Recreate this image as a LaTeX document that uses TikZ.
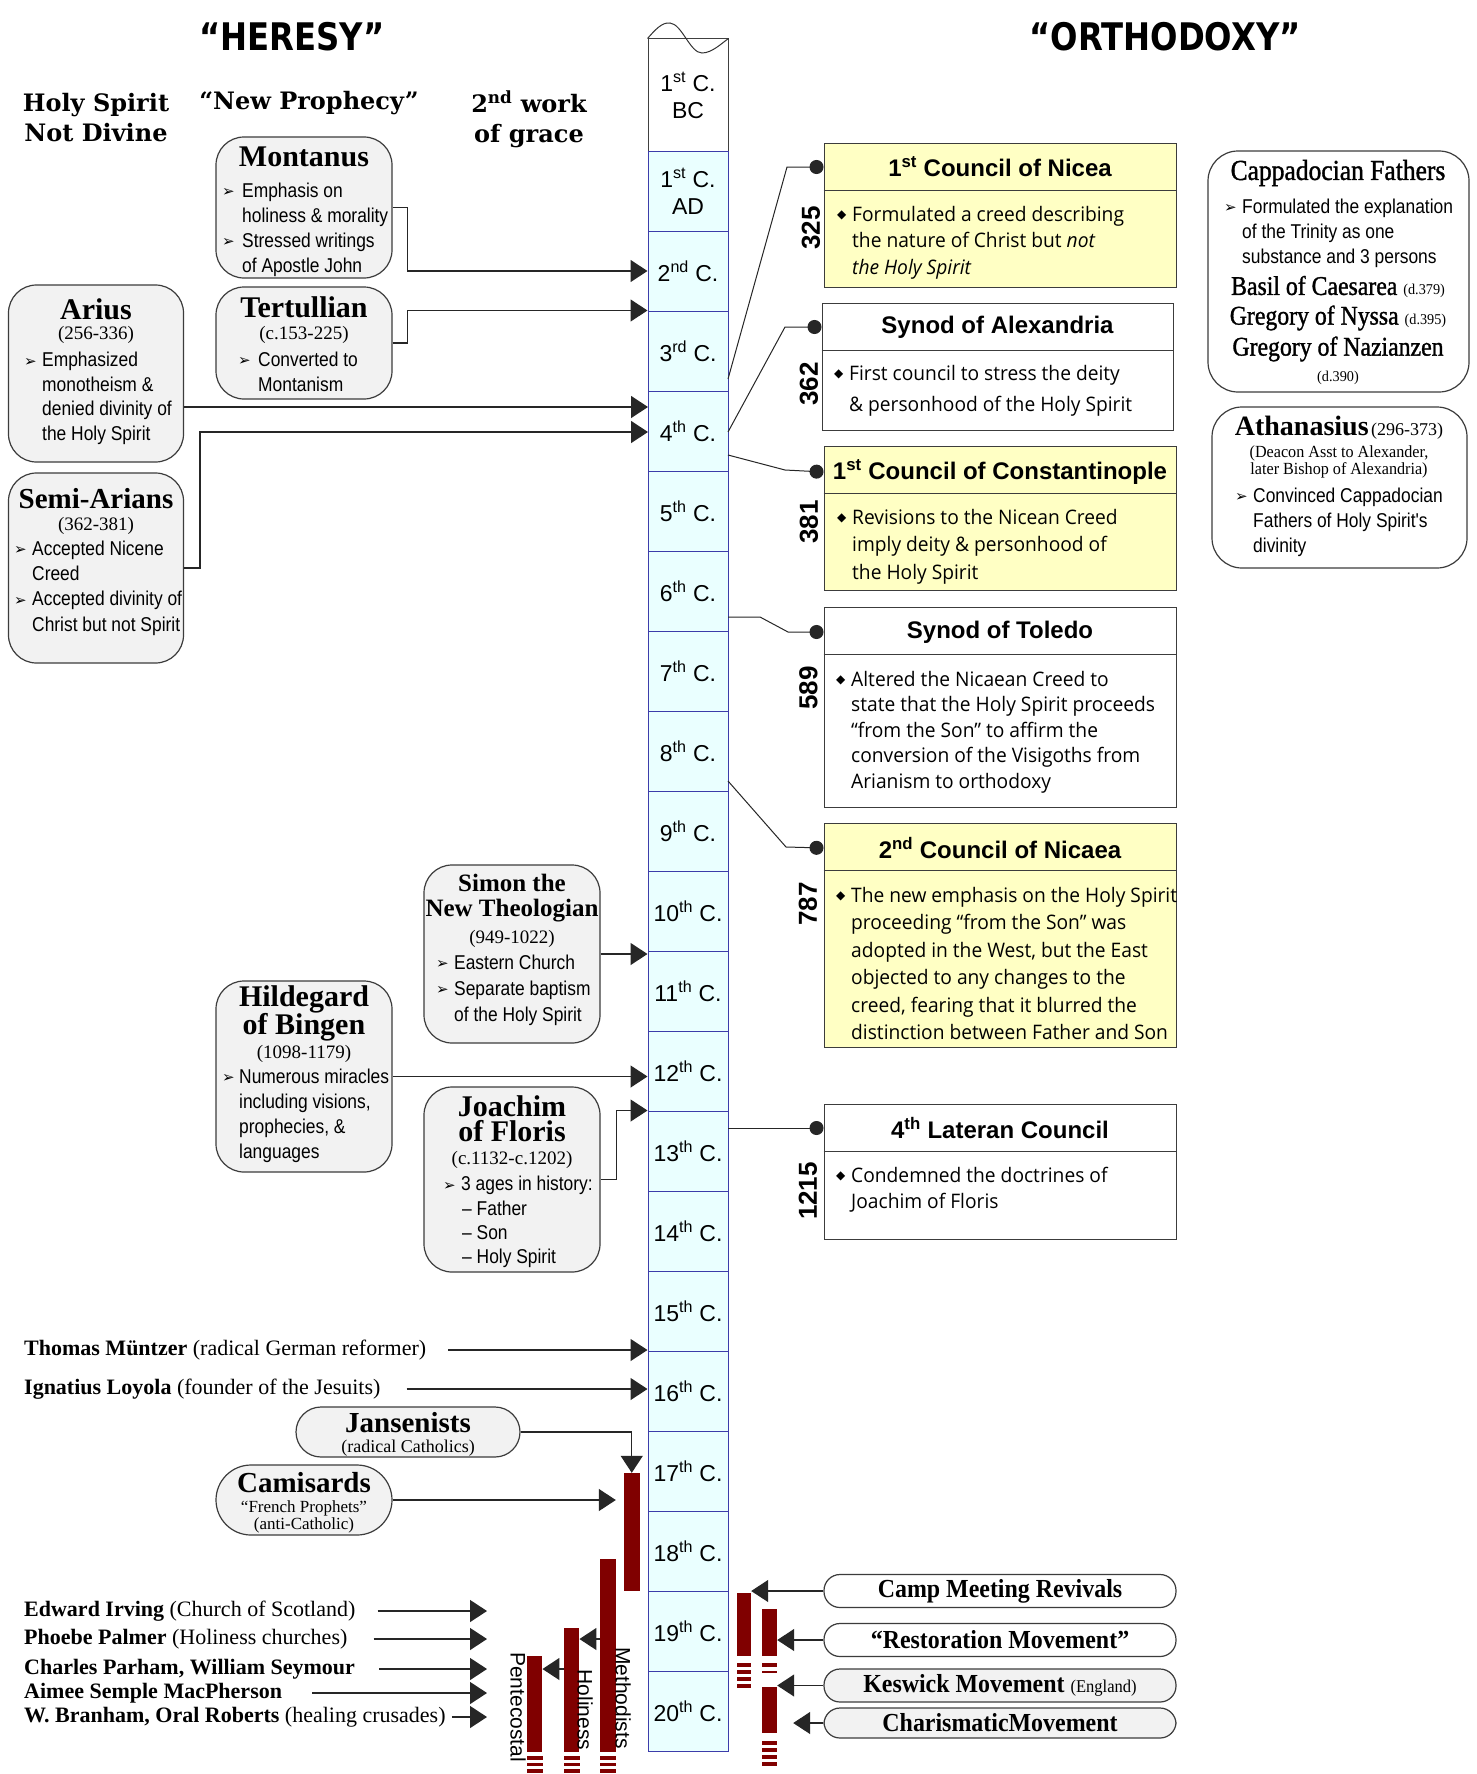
\documentclass[tikz,border=0pt]{standalone}
\usepackage{fontspec}
\setmainfont{Liberation Serif}
\newfontfamily\sansf{Liberation Sans}
\newfontfamily\narrowf{Liberation Sans}[FakeStretch=0.87]
\newfontfamily\dejaf{DejaVu Sans}
\newfontfamily\dserif{DejaVu Serif}
\newfontfamily\comicf{Open Sans}[FakeStretch=0.96]
\newfontfamily\decof{DejaVu Sans}[FakeStretch=0.85]
\newfontfamily\condserif{Liberation Serif}[FakeStretch=0.95]
\newfontfamily\namef{Liberation Serif}[FakeStretch=0.88, FakeBold=1.2]
\newfontfamily\ellf{Liberation Serif}[FakeStretch=0.92]
\usetikzlibrary{arrows.meta}
\newcommand\fsz[2]{\fontsize{#1}{#2}\selectfont}
\newcommand\bul[1]{\makebox[#1pt][l]{\dejaf\fsz{15}{15}\raisebox{0.5pt}{➢}}}
\newcommand\ind[1]{\hspace*{#1pt}}
\newcommand\dia{\makebox[15pt][l]{\dejaf\fsz{12}{12}\raisebox{3pt}{◆}}}
\definecolor{boxgray}{RGB}{242,242,242}
\definecolor{edgegray}{RGB}{60,60,60}
\definecolor{colfill}{RGB}{234,255,255}
\definecolor{colblue}{RGB}{60,60,170}
\definecolor{yel}{RGB}{255,255,196}
\definecolor{barred}{RGB}{128,0,0}
\tikzset{
  rbox/.style={draw=edgegray, line width=1.2pt, fill=boxgray, rounded corners=28pt, inner sep=0},
  wbox/.style={draw=edgegray, line width=1.2pt, fill=white, rounded corners=30pt, inner sep=0},
  cbox/.style={draw=edgegray, line width=1pt, inner sep=0, minimum width=352pt},
  divl/.style={draw=edgegray, line width=1pt},
  conn/.style={draw=black!85, line width=1.3pt, -{Triangle[length=17pt,width=22pt]}},
  dotc/.style={draw=black!85, line width=1pt, -{Circle[length=14pt]}},
  nm/.style={font=\bfseries\fsz{30}{25}, inner sep=0, align=center},
  dt/.style={font=\fsz{19}{22}, inner sep=0, text height=12pt, text depth=3pt},
  bl/.style={font=\narrowf\fsz{20}{25}, align=left, anchor=west, inner sep=0},
  cb/.style={font=\comicf\fsz{20}{26}, align=left, anchor=west, inner sep=0},
  ct/.style={font=\sansf\bfseries\fsz{24}{28}, inner sep=0},
  yr/.style={font=\sansf\bfseries\fsz{26}{26}, rotate=90, inner sep=0},
  hdr/.style={font=\dserif\bfseries\fsz{24}{30}, align=center, inner sep=0},
  lt/.style={font=\fsz{22}{22}, anchor=west, inner sep=0},
  crow/.style={draw=colblue, line width=1pt, fill=colfill, minimum width=80pt, minimum height=80pt, inner sep=0, font=\sansf\fsz{23}{27}, align=center},
  bar/.style={fill=barred, draw=none, inner sep=0, minimum width=15.5pt},
  ell/.style={draw=edgegray, line width=1.2pt, rounded corners=16pt, minimum width=352pt, minimum height=33pt, inner sep=0, font=\ellf\bfseries\fsz{26}{26}},
  vlab/.style={font=\sansf\fsz{21}{21}, rotate=-90, inner sep=0},
  nmc/.style={font=\namef\fsz{27}{27}, inner sep=0}
}
\begin{document}
\begin{tikzpicture}[x=1pt,y=-1pt]
\useasboundingbox (0,0) rectangle (1476,1774);
\fill[white] (0,0) rectangle (1476,1774);

% titles and headers
\node[font=\decof\bfseries\fsz{38}{40}, inner sep=0] (heresy) at (292,37) {“HERESY”};
\node[font=\decof\bfseries\fsz{38}{40}, inner sep=0] (ortho) at (1165,37) {“ORTHODOXY”};
\node[hdr] (hsnd) at (96,118) {Holy Spirit\\Not Divine};
\node[hdr] (newp) at (309,103) {“New Prophecy”};
\node[hdr] (swork) at (529,119) {2\textsuperscript{nd} work\\of grace};

% timeline column
\node[crow, fill=white, draw=black!75, minimum height=112pt] (r0) at (688,95) {1\textsuperscript{st} C.\\BC};
\draw[black!80, line width=1pt] (r0.north west) .. controls (655,30) and (662,22) .. (670,23)
   .. controls (682,24) and (690,53) .. (702,53) .. controls (712,53) and (722,43) .. (r0.north east);
\node[crow] (r1) at (688,191) {1\textsuperscript{st} C.\\AD};
\foreach \i/\s in {2/nd,3/rd,4/th,5/th,6/th,7/th,8/th,9/th,10/th,11/th,12/th,13/th,14/th,15/th,16/th,17/th,18/th,19/th,20/th}
  \node[crow] (r\i) at (688,{191+80*(\i-1)}) {\i\textsuperscript{\s} C.};

% ---------------- left side boxes ----------------
\node[rbox, minimum width=176pt, minimum height=141pt] (mont) at (304,207.5) {};
\node[nm] (montN) at (304,157) {Montanus};
\node[bl] (montB) at (222,229.5) {\bul{20}Emphasis on\\\ind{20}holiness \& morality\\\bul{20}Stressed writings\\\ind{20}of Apostle John};

\node[rbox, minimum width=176pt, minimum height=112pt] (tert) at (304,343) {};
\node[nm] (tertN) at (304,307) {Tertullian};
\node[dt] (tertD) at (304,335) {(c.153-225)};
\node[bl] (tertB) at (238,371.5) {\bul{20}Converted to\\\ind{20}Montanism};

\node[rbox, minimum width=175pt, minimum height=177pt] (arius) at (96,373.5) {};
\node[nm] (ariusN) at (96,309) {Arius};
\node[dt] (ariusD) at (96,335) {(256-336)};
\node[bl, font=\narrowf\fsz{20}{24.5}] (ariusB) at (24,398.5) {\bul{18}Emphasized\\\ind{18}monotheism \&\\\ind{18}denied divinity of\\\ind{18}the Holy Spirit};

\node[rbox, minimum width=175pt, minimum height=190pt] (semi) at (96,568) {};
\node[nm, font=\bfseries\fsz{29}{25}] (semiN) at (96,499) {Semi-Arians};
\node[dt] (semiD) at (96,526) {(362-381)};
\node[bl, font=\narrowf\fsz{20}{25.3}] (semiB) at (14,588) {\bul{18}Accepted Nicene\\\ind{18}Creed\\\bul{18}Accepted divinity of\\\ind{18}Christ but not Spirit};

\node[rbox, minimum width=176pt, minimum height=178pt] (simon) at (512,954) {};
\node[nm, font=\bfseries\fsz{25}{25}] (simonN) at (512,898.5) {Simon the\\New Theologian};
\node[dt] (simonD) at (512,939) {(949-1022)};
\node[bl, font=\narrowf\fsz{20}{26}] (simonB) at (436,990) {\bul{18}Eastern Church\\\bul{18}Separate baptism\\\ind{18}of the Holy Spirit};

\node[rbox, minimum width=176pt, minimum height=191pt] (hild) at (304,1076.5) {};
\node[nm] (hildN) at (304,1013.5) {Hildegard\\of Bingen};
\node[dt] (hildD) at (304,1054) {(1098-1179)};
\node[bl] (hildB) at (222,1115.5) {\bul{17}Numerous miracles\\\ind{17}including visions,\\\ind{17}prophecies, \&\\\ind{17}languages};

\node[rbox, minimum width=176pt, minimum height=185pt] (joa) at (512,1179.5) {};
\node[nm] (joaN) at (512,1118.5) {Joachim\\of Floris};
\node[dt] (joaD) at (512,1160) {(c.1132-c.1202)};
\node[bl, font=\narrowf\fsz{20}{24.3}] (joaB) at (443,1222) {\bul{18}3 ages in history:\\\ind{19}– Father\\\ind{19}– Son\\\ind{19}– Holy Spirit};

\node[lt] (thomas) at (24,1350) {\textbf{Thomas Müntzer} (radical German reformer)};
\node[lt] (ign) at (24,1389) {\textbf{Ignatius Loyola} (founder of the Jesuits)};

\node[rbox, rounded corners=25pt, minimum width=224pt, minimum height=50pt] (jan) at (408,1432) {};
\node[nm, font=\bfseries\fsz{29}{25}] (janN) at (408,1423) {Jansenists};
\node[dt, font=\fsz{18}{18}] (janD) at (408,1448) {(radical Catholics)};

\node[rbox, rounded corners=35pt, minimum width=176pt, minimum height=70pt] (cam) at (304,1500) {};
\node[nm, font=\bfseries\fsz{29}{25}] (camN) at (304,1483) {Camisards};
\node[dt, font=\fsz{17}{17}, text height=11pt, text depth=2pt] (camD1) at (304,1508) {“French Prophets”};
\node[dt, font=\fsz{17}{17}, text height=11pt, text depth=2pt] (camD2) at (304,1525) {(anti-Catholic)};

\node[lt] (irv) at (24,1611) {\textbf{Edward Irving} (Church of Scotland)};
\node[lt] (pal) at (24,1639) {\textbf{Phoebe Palmer} (Holiness churches)};
\node[lt] (par) at (24,1669) {\textbf{Charles Parham, William Seymour}};
\node[lt] (aim) at (24,1693) {\textbf{Aimee Semple MacPherson}};
\node[lt] (bra) at (24,1717) {\textbf{W. Branham, Oral Roberts} (healing crusades)};
\coordinate (irvE) at (487,1611);
\coordinate (palE) at (487,1639);
\coordinate (parE) at (487,1669);
\coordinate (aimE) at (487,1693);
\coordinate (braE) at (487,1717);

% bars (left)
\node[bar, minimum height=118pt] (bar1) at (631.75,1532) {};
\node[bar, minimum height=193pt] (bar2) at (608,1655.5) {};
\node[bar, minimum height=124pt] (bar3) at (571.5,1690) {};
\node[bar, minimum height=96pt] (bar4) at (534.5,1704) {};
\foreach \x in {527,564,600} \foreach \y in {1756,1762.5,1769} \fill[barred] (\x,\y) rectangle ++(15.5,3.5);
\node[vlab] (methL) at (623,1698) {Methodists};
\node[vlab] (holL) at (585,1710) {Holiness};
\node[vlab] (pentL) at (518,1707) {Pentecostal};
\coordinate (hy1) at (0,1639);
\coordinate (hy2) at (0,1669);

% bars (right)
\node[bar, minimum width=14pt, minimum height=63pt] (barA) at (744,1624.5) {};
\node[bar, minimum width=15pt, minimum height=47pt] (barB) at (769.5,1632.5) {};
\node[bar, minimum width=15pt, minimum height=46pt] (barC) at (769.5,1710) {};
\foreach \y in {1663,1670,1677,1684} \fill[barred] (737,\y) rectangle ++(14,3.5);
\fill[barred] (762,1663) rectangle ++(15,3.5);
\fill[barred] (762,1670.5) rectangle ++(15,2);
\foreach \y in {1741,1748,1755,1762} \fill[barred] (762,\y) rectangle ++(15,3.5);

\node[ell, fill=white] (camp) at (1000,1591) {Camp Meeting Revivals};
\node[ell, fill=white] (rest) at (1000,1640) {“Restoration Movement”};
\node[ell, fill=boxgray] (kes) at (1000,1685.5) {Keswick Movement {\mdseries\fsz{18}{18}(England)}};
\node[ell, fill=boxgray, minimum height=30pt] (charm) at (1000,1723) {CharismaticMovement};

% ---------------- right side ----------------
\node[cbox, fill=yel, minimum height=144pt] (nic1) at (1000,215) {};
\draw[divl] ([yshift=-48pt]nic1.north west) -- ([yshift=-48pt]nic1.north east);
\node[ct] (nic1t) at (1000,167) {1\textsuperscript{st} Council of Nicea};
\node[cb, font=\comicf\fsz{20}{26.5}] (nic1b) at (837,242.5) {\dia Formulated a creed describing\\\ind{15}the nature of Christ but \textit{not}\\\ind{15}\textit{the Holy Spirit}};
\node[yr] (y325) at (811,228) {325};

\node[cbox, fill=white, minimum width=351pt, minimum height=127pt] (alex) at (997.5,366.5) {};
\node[ct] (alext) at (997.5,327) {Synod of Alexandria};
\draw[divl] ([yshift=-48pt]alex.north west) -- ([yshift=-48pt]alex.north east);
\node[cb, font=\comicf\fsz{20}{31}] (alexb) at (834,390.5) {\dia First council to stress the deity\\\ind{15}\& personhood of the Holy Spirit};
\node[yr] (y362) at (809,384) {362};

\node[cbox, fill=yel, minimum height=144pt] (con) at (1000,518) {};
\node[ct] (cont) at (1000,472) {1\textsuperscript{st} Council of Constantinople};
\draw[divl] ([yshift=-48pt]con.north west) -- ([yshift=-48pt]con.north east);
\node[cb, font=\comicf\fsz{20}{27.5}] (conb) at (837,546.5) {\dia Revisions to the Nicean Creed\\\ind{15}imply deity \& personhood of\\\ind{15}the Holy Spirit};
\node[yr] (y381) at (809,522) {381};

\node[cbox, fill=white, minimum height=200pt] (tol) at (1000,707) {};
\node[ct] (tolt) at (1000,632) {Synod of Toledo};
\draw[divl] ([yshift=-48pt]tol.north west) -- ([yshift=-48pt]tol.north east);
\node[cb, font=\comicf\fsz{20}{25.5}] (tolb) at (836,732) {\dia Altered the Nicaean Creed to\\\ind{15}state that the Holy Spirit proceeds\\\ind{15}“from the Son” to affirm the\\\ind{15}conversion of the Visigoths from\\\ind{15}Arianism to orthodoxy};
\node[yr] (y589) at (808.5,688) {589};

\node[cbox, fill=yel, minimum height=224pt] (nic2) at (1000,935) {};
\node[ct] (nic2t) at (1000,848) {2\textsuperscript{nd} Council of Nicaea};
\draw[divl] ([yshift=-48pt]nic2.north west) -- ([yshift=-48pt]nic2.north east);
\node[cb, font=\comicf\fsz{20}{27.4}] (nic2b) at (836,963.5) {\dia The new emphasis on the Holy Spirit\\\ind{15}proceeding “from the Son” was\\\ind{15}adopted in the West, but the East\\\ind{15}objected to any changes to the\\\ind{15}creed, fearing that it blurred the\\\ind{15}distinction between Father and Son};
\node[yr] (y787) at (808,904) {787};

\node[cbox, fill=white, minimum height=135pt] (lat) at (1000,1171.5) {};
\node[ct] (latt) at (1000,1128) {4\textsuperscript{th} Lateran Council};
\draw[divl] ([yshift=-48pt]lat.north west) -- ([yshift=-48pt]lat.north east);
\node[cb, font=\comicf\fsz{20}{26}] (latb) at (836,1190) {\dia Condemned the doctrines of\\\ind{15}Joachim of Floris};
\node[yr] (y1215) at (808,1191) {1215};

\node[wbox, minimum width=261pt, minimum height=241pt] (capp) at (1338.5,271.5) {};
\node[font=\namef\fsz{29}{29}, inner sep=0] (cappN) at (1338,173) {Cappadocian Fathers};
\node[bl] (cappB) at (1224,233) {\bul{18}Formulated the explanation\\\ind{18}of the Trinity as one\\\ind{18}substance and 3 persons};
\node[nmc] (basil) at (1338,287) {Basil of Caesarea {\condserif\fsz{15}{15}(d.379)}};
\node[nmc] (nyssa) at (1338,318) {Gregory of Nyssa {\condserif\fsz{15}{15}(d.395)}};
\node[nmc] (naz) at (1338,349) {Gregory of Nazianzen};
\node[font=\condserif\fsz{15}{15}, inner sep=0] (nazD) at (1338,378) {(d.390)};

\node[wbox, minimum width=255pt, minimum height=161pt] (ath) at (1339.5,487.5) {};
\node[inner sep=0] (athN) at (1339,428) {{\bfseries\fsz{28}{28}Athanasius}\ {\fsz{18}{18}(296-373)}};
\node[font=\condserif\fsz{17}{17}, align=center, inner sep=0] (athD) at (1339,462) {(Deacon Asst to Alexander,\\later Bishop of Alexandria)};
\node[bl] (athB) at (1235,522) {\bul{18}Convinced Cappadocian\\\ind{18}Fathers of Holy Spirit's\\\ind{18}divinity};

% ---------------- connectors ----------------
\coordinate (a4a) at (648,407);
\coordinate (a4b) at (648,432);
\draw[conn] (mont.east) -- ++(15,0) |- (r2.west);
\draw[conn] (tert.east) -- ++(15,0) |- (r3.north west);
\draw[conn] (arius.east |- a4a) -- (a4a);
\draw[conn] (semi.east) -- ++(16,0) |- (a4b);
\draw[conn] (simon.east) -- (simon.east -| r10.west);
\draw[conn] (hild.east) -- (hild.east -| r12.west);
\draw[conn] (joa.east) -- ++(16,0) |- (r13.north west);
\draw[conn, shorten <=22pt] (thomas.east) -- (thomas.east -| r16.west);
\draw[conn, shorten <=26pt] (ign.east) -- (ign.east -| r16.west);
\draw[conn] (jan.east) -| (bar1.north);
\draw[conn, shorten >=8pt] (cam.east) -- (cam.east -| bar1.west);
\draw[conn, shorten <=22pt] (irv.east) -- (irvE);
\draw[conn, shorten <=26pt] (pal.east) -- (palE);
\draw[conn, shorten <=24pt] (par.east) -- (parE);
\draw[conn, shorten <=30pt] (aim.east) -- (aimE);
\draw[conn, shorten <=6pt] (bra.east) -- (braE);
\draw[conn] (bar2.west |- hy1) -- (bar3.east |- hy1);
\draw[conn] (bar3.west |- hy2) -- (bar4.east |- hy2);
\draw[conn] (camp.west) -- (camp.west -| barA.east);
\draw[conn] (rest.west) -- (rest.west -| barB.east);
\draw[conn] (kes.west) -- (kes.west -| barC.east);
\draw[conn, shorten >=16pt] (charm.west) -- (charm.west -| barC.east);

\coordinate (k1) at (728,379);
\coordinate (k2) at (728,432);
\coordinate (k3) at (728,455);
\coordinate (k4) at (728,617);
\coordinate (k5) at (728,781);
\coordinate (k6) at (728,1128);
\draw[dotc] (k1) -- (787,167) -- (nic1.west |- nic1t);
\draw[dotc] (k2) -- (785,327) -- (alex.west |- alext);
\draw[dotc] (k3) -- (785,470) -- (con.west |- cont);
\draw[dotc] (k4) -- (760,617) -- (788,632) -- (tol.west |- tolt);
\draw[dotc] (k5) -- (786,847) -- (nic2.west |- nic2t);
\draw[dotc] (k6) -- (lat.west |- latt);
\end{tikzpicture}
\end{document}
